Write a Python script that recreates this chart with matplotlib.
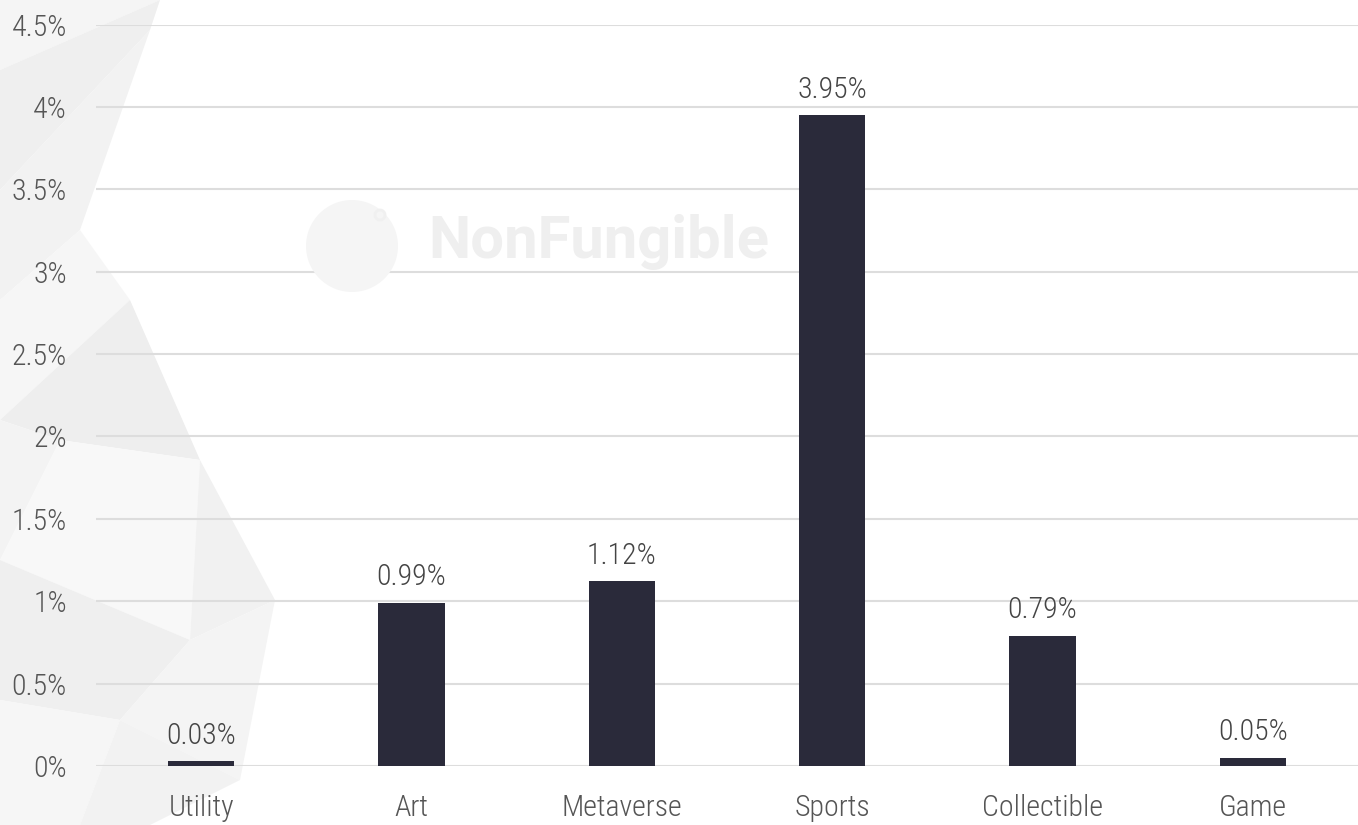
import matplotlib
matplotlib.use("Agg")
import matplotlib.pyplot as plt
from matplotlib.patches import Polygon, Ellipse
from matplotlib import font_manager

categories = ["Utility", "Art", "Metaverse", "Sports", "Collectible", "Game"]
values = [0.03, 0.99, 1.12, 3.95, 0.79, 0.05]
yticks = [0, 0.5, 1, 1.5, 2, 2.5, 3, 3.5, 4, 4.5]
ytick_labels = ["0%", "0.5%", "1%", "1.5%", "2%", "2.5%", "3%", "3.5%", "4%", "4.5%"]
value_labels = ["0.03%", "0.99%", "1.12%", "3.95%", "0.79%", "0.05%"]

names = {f.name for f in font_manager.fontManager.ttflist}
cands = ["Roboto Condensed", "Liberation Sans Narrow", "Open Sans Condensed", "Roboto"]
font = next(c for c in cands if c in names)
plt.rcParams['font.family'] = [font, 'DejaVu Sans']
condensed = font != "Roboto"
fs = 21.5 if condensed else 19
weight = "light"

W, H = 1358, 825
fig = plt.figure(figsize=(W / 100, H / 100), dpi=100)
fig.patch.set_facecolor("white")

# decorative low-poly background on the left (figure pixel coords, y from top)
polys = [
    ([(0, 0), (160, 0), (0, 70)], "#f5f5f5"),
    ([(0, 70), (160, 0), (150, 30), (0, 190)], "#efefef"),
    ([(0, 190), (150, 30), (80, 230), (0, 300)], "#f2f2f2"),
    ([(0, 300), (80, 230), (130, 300), (0, 420)], "#f6f6f6"),
    ([(130, 300), (200, 460), (60, 440), (0, 420)], "#eeeeee"),
    ([(0, 420), (60, 440), (0, 560)], "#f3f3f3"),
    ([(60, 440), (200, 460), (190, 640), (0, 560)], "#f8f8f8"),
    ([(200, 460), (275, 600), (190, 640)], "#f1f1f1"),
    ([(0, 560), (190, 640), (120, 720), (0, 700)], "#efefef"),
    ([(190, 640), (275, 600), (240, 780), (120, 720)], "#f4f4f4"),
    ([(0, 700), (120, 720), (80, 825), (0, 825)], "#f6f6f6"),
    ([(120, 720), (240, 780), (150, 825), (80, 825)], "#f2f2f2"),
]
for pts, col in polys:
    fpts = [(x / W, 1 - y / H) for x, y in pts]
    fig.add_artist(Polygon(fpts, closed=True, facecolor=col, edgecolor="none",
                           transform=fig.transFigure, zorder=0))

left, right = 96 / W, 1.0
bottom, top = 1 - 766 / H, 1 - 24.5 / H
ax = fig.add_axes([left, bottom, right - left, top - bottom])
ax.patch.set_alpha(0)

x = list(range(len(categories)))
ax.bar(x, values, width=0.314, color="#2a2a3a", zorder=3)
for xi, v, lab in zip(x, values, value_labels):
    ax.text(xi, v + 0.07, lab, ha="center", va="bottom", fontsize=fs,
            fontweight=weight, color="#444444")

ax.set_xlim(-0.5, len(categories) - 0.5)
ax.set_ylim(0, 4.5)
ax.set_yticks(yticks)
ax.set_yticklabels(ytick_labels, fontweight=weight)
ax.set_xticks(x)
ax.set_xticklabels(categories, fontweight=weight)
ax.tick_params(axis="both", length=0, labelsize=fs, labelcolor="#555555")
ax.tick_params(axis="y", pad=21)
ax.tick_params(axis="x", pad=20)
ax.grid(axis="y", color="#dddddd", linewidth=1.5, zorder=0)
ax.set_axisbelow(True)
for s in ax.spines.values():
    s.set_visible(False)

# watermark
fig.add_artist(Ellipse((352 / W, 1 - 246 / H), 92 / W, 92 / H, transform=fig.transFigure,
                       facecolor="#f5f5f5", edgecolor="none", zorder=1))
fig.add_artist(Ellipse((380 / W, 1 - 215 / H), 10 / W, 10 / H, transform=fig.transFigure,
                       facecolor="none", edgecolor="#f0f0f0", linewidth=2, zorder=1))
fig.text(428 / W, 1 - 242 / H, "NonFungible", fontsize=43, fontweight="bold",
         family="Roboto", color="#efefef", ha="left", va="center", zorder=1)

fig.savefig("out.png", dpi=100)
